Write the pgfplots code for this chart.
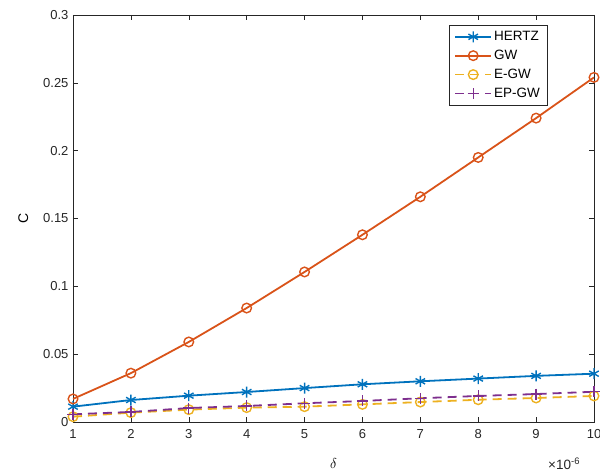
\documentclass[border=0pt]{standalone}
\usepackage{fontspec}
\setmainfont{Liberation Sans}
\usepackage{pgfplots}
\pgfplotsset{compat=1.18}
\definecolor{mblue}{rgb}{0,0.447,0.741}
\definecolor{morange}{rgb}{0.85,0.325,0.098}
\definecolor{myellow}{rgb}{0.929,0.694,0.125}
\definecolor{mpurple}{rgb}{0.494,0.184,0.556}
\definecolor{axgray}{rgb}{0.15,0.15,0.15}
\begin{document}
\begin{tikzpicture}[x=1pt,y=1pt]
\useasboundingbox (-73,-51) rectangle (527,422);
\begin{axis}[
  width=521pt, height=407pt, scale only axis,
  xmin=1, xmax=10, ymin=0, ymax=0.3,
  xtick={1,2,...,10},
  ytick={0,0.05,0.1,0.15,0.2,0.25,0.3},
  yticklabels={0,0.05,0.1,0.15,0.2,0.25,0.3},
  tick align=inside,
  major tick length=5pt,
  axis line style={axgray, line width=0.5pt},
  every tick/.style={axgray, line width=0.5pt},
  tick label style={font=\fontsize{13}{15}\selectfont, text=axgray},
  xticklabel style={yshift=-4pt},
  yticklabel style={xshift=-1pt},
  /pgf/number format/assume math mode=true,
  xlabel={$\delta$},
  xlabel style={font=\fontsize{14}{15}\selectfont, yshift=-13pt},
  ylabel={C},
  ylabel style={font=\fontsize{14}{15}\selectfont, yshift=8pt},
  legend style={at={(0.91,0.975)}, anchor=north east, draw=axgray, line width=0.5pt,
    font=\fontsize{13.5}{15}\selectfont, row sep=4pt, inner xsep=5pt, inner ysep=4pt,
    legend cell align=left},
  legend image code/.code={\draw[mark repeat=2,mark phase=2] plot coordinates {(0pt,0pt) (18pt,0pt) (36pt,0pt)};},
  every axis plot/.append style={line width=1.8pt},
]
\addplot[mblue, mark=asterisk, mark size=5.5pt, mark options={solid, line width=1.4pt}] coordinates {
(1,0.0113) (2,0.0162) (3,0.0194) (4,0.0221) (5,0.0250) (6,0.0278) (7,0.0300) (8,0.0320) (9,0.0340) (10,0.0356)};
\addlegendentry{HERTZ}
\addplot[morange, mark=o, mark size=4.8pt, mark options={solid, line width=1.4pt}] coordinates {
(1,0.017) (2,0.036) (3,0.059) (4,0.084) (5,0.1106) (6,0.138) (7,0.166) (8,0.195) (9,0.224) (10,0.254)};
\addlegendentry{GW}
\addplot[myellow, dash pattern=on 9pt off 6pt, mark=o, mark size=4.8pt, mark options={solid, line width=1.4pt}] coordinates {
(1,0.0039) (2,0.0069) (3,0.0091) (4,0.0106) (5,0.0113) (6,0.0130) (7,0.0147) (8,0.0164) (9,0.0177) (10,0.0192)};
\addlegendentry{E-GW}
\addplot[mpurple, dash pattern=on 9pt off 6pt, mark=+, mark size=5.5pt, mark options={solid, line width=1.4pt}] coordinates {
(1,0.0057) (2,0.0074) (3,0.0103) (4,0.0118) (5,0.0138) (6,0.0155) (7,0.0175) (8,0.0192) (9,0.0206) (10,0.0223)};
\addlegendentry{EP-GW}
\end{axis}
\node[anchor=base west, font=\fontsize{13.5}{15}\selectfont, text=axgray, inner sep=0pt] at (475,-48) {×10\textsuperscript{-6}};
\end{tikzpicture}
\end{document}
